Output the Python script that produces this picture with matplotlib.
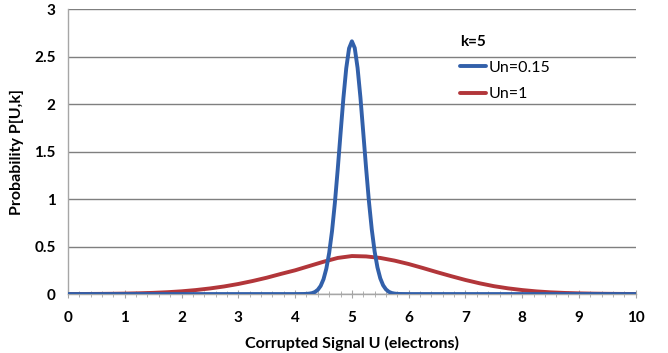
import matplotlib
matplotlib.use("Agg")
import matplotlib.pyplot as plt
from matplotlib.ticker import MultipleLocator

# Un = 0.15 (narrow curve)
x_narrow = [0, 4.0, 4.15, 4.2, 4.25, 4.3, 4.35, 4.4, 4.45, 4.5, 4.55, 4.6, 4.65, 4.7, 4.75, 4.8, 4.85, 4.9, 4.95, 5.0,
            5.05, 5.1, 5.15, 5.2, 5.25, 5.3, 5.35, 5.4, 5.45, 5.5, 5.55, 5.6, 5.65, 5.7, 5.75, 5.8, 5.85, 6.0, 10]
y_narrow = [0, 0, 0.0008, 0.002, 0.0045, 0.010, 0.022, 0.045, 0.086, 0.156, 0.268, 0.434, 0.663, 0.959, 1.310, 1.690, 2.061, 2.375, 2.586, 2.660,
            2.590, 2.380, 2.070, 1.700, 1.325, 0.975, 0.680, 0.448, 0.280, 0.165, 0.092, 0.049, 0.024, 0.011, 0.005, 0.002, 0.0008, 0, 0]

# Un = 1 (wide curve)
x_wide = [0, 0.25, 0.5, 0.75, 1.0, 1.25, 1.5, 1.75, 2.0, 2.25, 2.5, 2.75, 3.0, 3.25, 3.5, 3.75, 4.0, 4.25, 4.5, 4.75, 5.0,
          5.25, 5.5, 5.75, 6.0, 6.25, 6.5, 6.75, 7.0, 7.25, 7.5, 7.75, 8.0, 8.25, 8.5, 8.75, 9.0, 9.25, 9.5, 9.75, 10]
y_wide = [0.0005, 0.0009, 0.0016, 0.0028, 0.0048, 0.0080, 0.0126, 0.0194, 0.0288, 0.042, 0.059, 0.080, 0.106, 0.137, 0.172, 0.212, 0.250, 0.295, 0.340, 0.380, 0.400,
          0.396, 0.380, 0.352, 0.316, 0.274, 0.230, 0.188, 0.148, 0.113, 0.083, 0.060, 0.042, 0.028, 0.018, 0.0115, 0.0072, 0.0043, 0.0025, 0.0014, 0.0008]

labels = ["Un=0.15", "Un=1"]
legend_title = "k=5"
xlabel = "Corrupted Signal U (electrons)"
ylabel = "Probability P[U,k]"

plt.rcParams['font.family'] = ['Lato', 'DejaVu Sans']

fig = plt.figure(figsize=(6.68, 3.53), dpi=100)
ax = fig.add_axes([0.1018, 0.167, 0.850, 0.8075])

blue = "#3260AA"
red = "#B2363A"
ax.plot(x_narrow, y_narrow, color=blue, lw=2.8, label=labels[0], zorder=3, solid_capstyle="round")
ax.plot(x_wide, y_wide, color=red, lw=2.8, label=labels[1], zorder=2, solid_capstyle="round")

ax.set_xlim(0, 10)
ax.set_ylim(0, 3)
ax.set_yticks([0, 0.5, 1, 1.5, 2, 2.5, 3])
ax.set_yticklabels(["0", "0.5", "1", "1.5", "2", "2.5", "3"])
ax.set_xticks(range(0, 11))
ax.xaxis.set_minor_locator(MultipleLocator(0.2))

ax.grid(axis="y", color="#7f7f7f", lw=1.0, zorder=0)
ax.set_axisbelow(True)

for s in ["top", "right"]:
    ax.spines[s].set_visible(False)
ax.spines["left"].set_color("#a6a6a6")
ax.spines["bottom"].set_color("#a6a6a6")
ax.spines["left"].set_linewidth(1.0)
ax.spines["bottom"].set_linewidth(1.0)

ax.tick_params(axis="y", length=0, pad=9, labelsize=11)
ax.tick_params(axis="x", which="major", direction="inout", length=6, color="#a6a6a6", pad=9, labelsize=11)
ax.tick_params(axis="x", which="minor", direction="inout", length=4, color="#a6a6a6")
for lab in ax.get_xticklabels() + ax.get_yticklabels():
    lab.set_fontweight("bold")

ax.set_xlabel(xlabel, fontsize=11.5, fontweight="bold", labelpad=8)
ax.set_ylabel(ylabel, fontsize=11.5, fontweight="bold", labelpad=7)

leg = ax.legend(title=legend_title, loc="upper left", bbox_to_anchor=(0.665, 0.96),
                frameon=False, fontsize=11.5, handlelength=1.6, handletextpad=0.2,
                labelspacing=0.75, title_fontproperties={"weight": "bold", "size": 11})
leg._legend_box.align = "left"
for line in leg.get_lines():
    line.set_linewidth(2.8)

fig.savefig("out.png", dpi=100, facecolor="white")
